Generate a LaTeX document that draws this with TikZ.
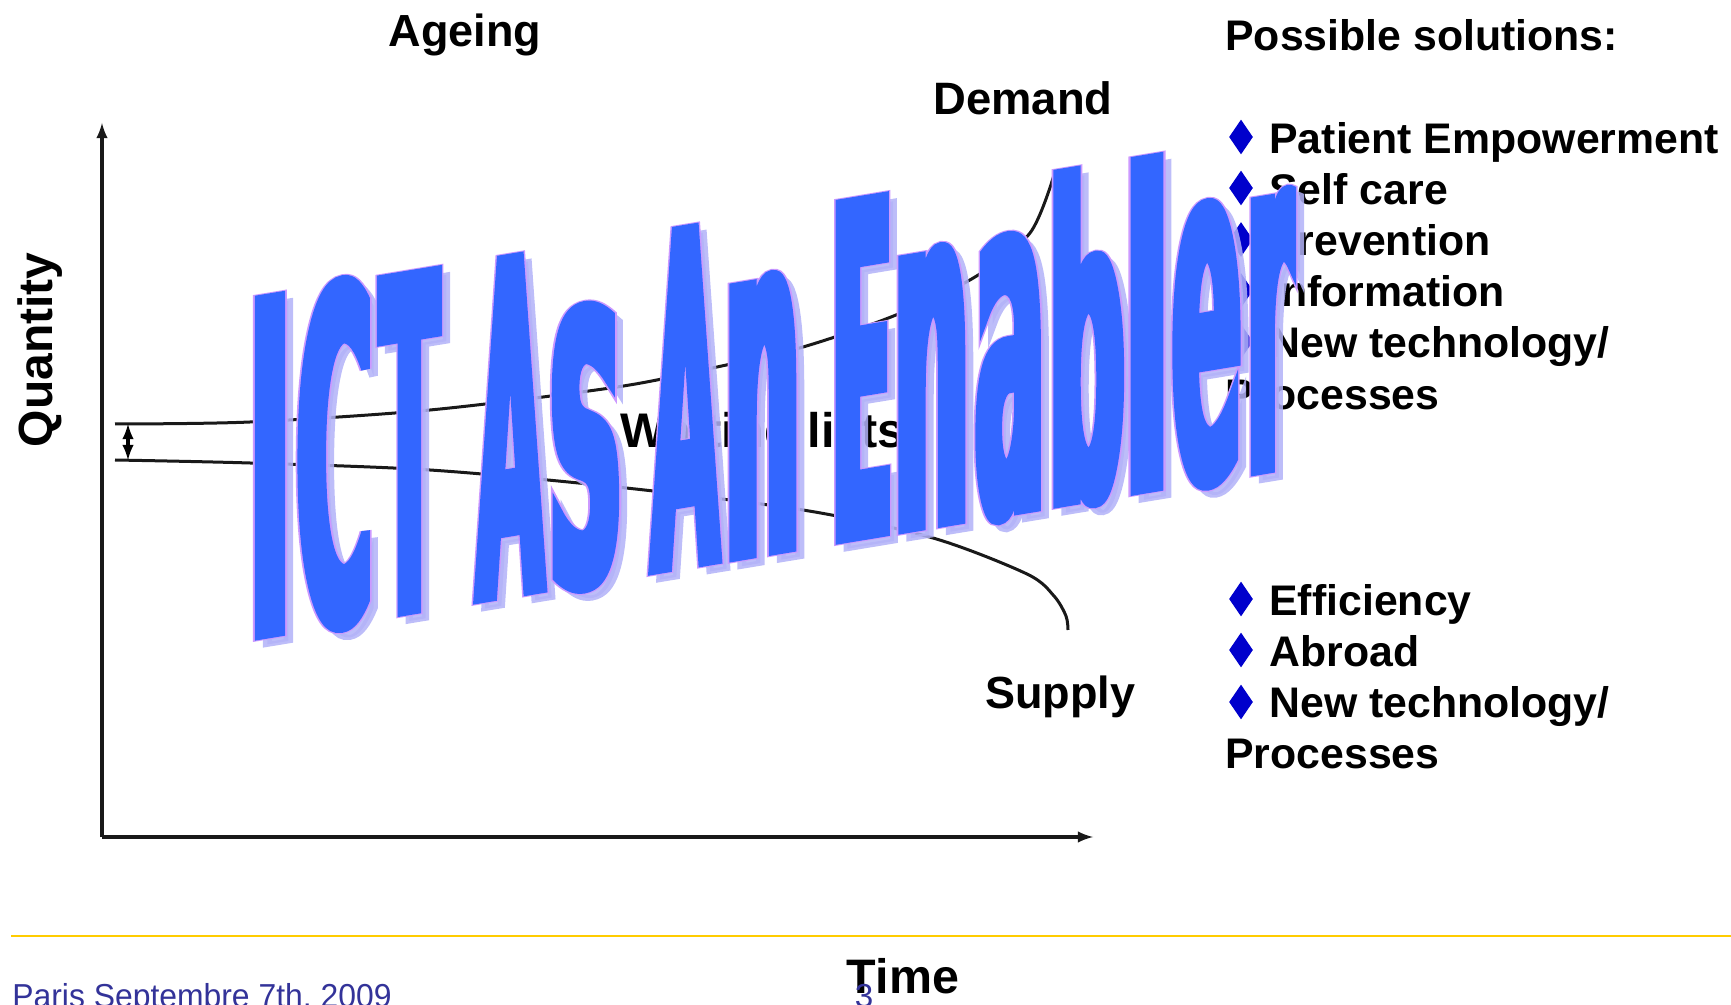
\documentclass[tikz,border=0pt]{standalone}
\usepackage{fontspec}
\usepackage{graphicx}
\usetikzlibrary{shapes.geometric}
\setmainfont{Liberation Sans}
\newfontfamily\wordfont[FakeStretch=0.127]{DejaVu Sans}
\definecolor{wordblue}{RGB}{51, 102, 255}
\definecolor{wordlilac}{RGB}{204, 153, 255}
\definecolor{wordshadow}{RGB}{178, 178, 248}
\definecolor{bulletblue}{RGB}{0, 0, 204}
\definecolor{footerblue}{RGB}{51, 51, 153}
\definecolor{ruleyellow}{RGB}{255, 204, 0}

% one stretched letter: offset, x scale, y scale, letter
\newcommand{\wordletter}[4]{\rlap{\hspace*{#1pt}\scalebox{#2}[#3]{#4}}}
\newcommand{\wordline}[1]{\special{pdf:code #1 w 2 Tr}%
  \wordletter{-2.6}{.93}{.494}{I}%
  \wordletter{21.1}{.86}{.494}{C}%
  \wordletter{62.8}{.72}{.494}{T}%
  \wordletter{111}{.73}{.494}{A}%
  \wordletter{148.1}{.97}{.53}{s}%
  \wordletter{198.5}{.73}{.494}{A}%
  \wordletter{235.3}{.88}{.53}{n}%
  \wordletter{288.4}{.75}{.494}{E}%
  \wordletter{319.8}{.88}{.53}{n}%
  \wordletter{360.4}{.86}{.53}{a}%
  \wordletter{397.3}{.88}{.466}{b}%
  \wordletter{435.4}{1.06}{.466}{l}%
  \wordletter{458.9}{.85}{.53}{e}%
  \wordletter{496.3}{.77}{.53}{r}%
  \special{pdf:code 0 Tr}}

\tikzset{
  label/.style={font=\fontsize{22.5}{26}\selectfont\bfseries, inner sep=0pt, anchor=base},
  listtext/.style={font=\fontsize{21.4}{26}\selectfont\bfseries, inner sep=0pt, anchor=base west},
  bullet/.style={diamond, fill=bulletblue, inner sep=0pt, minimum width=12pt, minimum height=17.5pt},
  curve/.style={line width=1.5pt, black!90},
  axis/.style={line width=1.6pt, black!90, -latex},
  wordart/.style={cm={1,0.165,0,1,(0,0)}, transform shape, inner sep=0pt, anchor=base west,
    font=\fontsize{472}{472}\selectfont\wordfont\bfseries}
}

\begin{document}
\begin{tikzpicture}[x=0.5pt, y=-0.5pt]
    \useasboundingbox (0,0) rectangle (1731,1005);

    % Axes
    \coordinate (origin) at (102,837);
    \coordinate (ytip) at (102,123);
    \coordinate (xtip) at (1093,837);
    \draw[axis] (origin) -- (ytip);
    \draw[axis] (origin) -- (xtip);

    % Demand and supply
    \coordinate (demandstart) at (115,424);
    \coordinate (supplystart) at (115,460);
    \coordinate (demandend) at (1054,175);
    \coordinate (supplyend) at (1068,630);
    \draw[curve] plot[smooth] coordinates {(demandstart) (250,422) (430,410) (617,387) (717,367) (803,347) (896,315) (975,277) (1030,233) (demandend)};
    \draw[curve] plot[smooth] coordinates {(supplystart) (250,463) (430,470) (617,487) (803,510) (933,538) (1027,574) (1054,596) (1066,616) (supplyend)};
    \draw[line width=1.6pt, black, latex-latex] (128,424) -- (128,460);

    % Axis and curve labels
    \node[label] (ageing) at (465,47) {Ageing};
    \node[label, font=\fontsize{22.7}{26}\selectfont\bfseries] (demand) at (1023,115) {Demand};
    \node[label] (supply) at (1060,709) {Supply};
    \node[label, font=\fontsize{24}{26}\selectfont\bfseries, rotate=90] (quantity) at (52,350) {Quantity};
    \node[label, font=\fontsize{24.2}{26}\selectfont\bfseries] (timeaxis) at (903,993) {Time};
    \node[label, anchor=base west, font=\fontsize{24.3}{26}\selectfont\bfseries] (waiting) at (620,448) {Waiting lists};

    % Demand side solutions
    \node[listtext] (title) at (1225,51) {Possible solutions:};
    \node[bullet] (b1) at (1241,137) {};
    \node[listtext] (s1) at (1269,154) {Patient Empowerment};
    \node[bullet] (b2) at (1241,188) {};
    \node[listtext] (s2) at (1269,205) {Self care};
    \node[bullet] (b3) at (1241,239.5) {};
    \node[listtext] (s3) at (1269,256) {Prevention};
    \node[bullet] (b4) at (1241,290.5) {};
    \node[listtext] (s4) at (1269,307) {Information};
    \node[bullet] (b5) at (1241,341.5) {};
    \node[listtext] (s5) at (1269,358) {New technology/};
    \node[listtext] (s6) at (1225,410) {Processes};

    % Supply side solutions
    \node[bullet] (b7) at (1241,599) {};
    \node[listtext] (s7) at (1269,616) {Efficiency};
    \node[bullet] (b8) at (1241,650) {};
    \node[listtext] (s8) at (1269,667) {Abroad};
    \node[bullet] (b9) at (1241,702) {};
    \node[listtext] (s9) at (1269,718) {New technology/};
    \node[listtext] (s10) at (1225,769) {Processes};

    % Footer
    \coordinate (ruleleft) at (11,936);
    \coordinate (ruleright) at (1731,936);
    \draw[ruleyellow, line width=0.8pt] (ruleleft) -- (ruleright);
    \node[inner sep=0pt, anchor=base west, text=footerblue, font=\fontsize{16.6}{20}\selectfont] (date) at (12,1007) {\scalebox{.96}[1]{Paris Septembre 7th, 2009}};
    \node[inner sep=0pt, anchor=base, text=footerblue, font=\fontsize{16.6}{20}\selectfont] (page) at (864,1007) {3};

    % WordArt title
    \begin{scope}[shift={(253,638.5)}]
        \node[wordart, text=wordshadow, text opacity=0.85] (wordback) at (8,7) {\wordline{5}};
        \node[wordart, text=wordlilac] (wordedge) at (0,0) {\wordline{7}};
        \node[wordart, text=wordblue] (wordfront) at (0,0) {\wordline{5}};
    \end{scope}
\end{tikzpicture}
\end{document}
